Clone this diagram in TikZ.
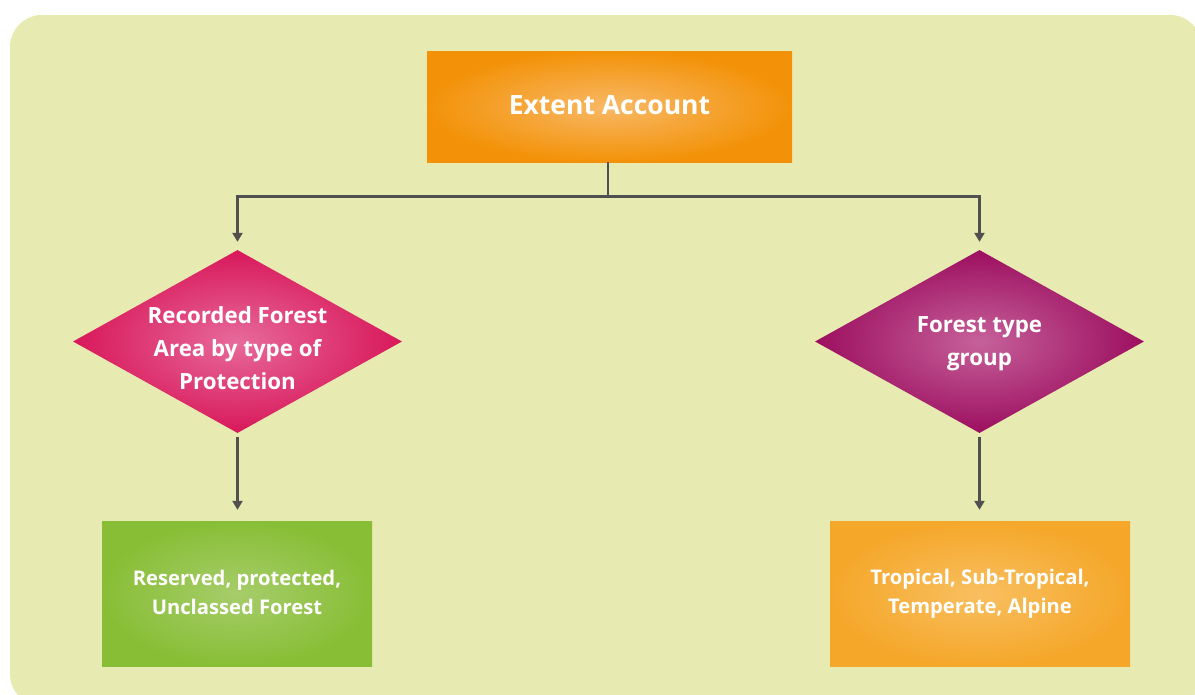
\documentclass[tikz,border=0pt]{standalone}
\usepackage{fontspec}
\setmainfont{Open Sans}
\usetikzlibrary{shapes.geometric,arrows.meta}
\definecolor{bgc}{HTML}{E8EBB1}
\definecolor{linegray}{HTML}{505050}
\definecolor{topout}{HTML}{F39208}
\definecolor{topin}{HTML}{F8B865}
\definecolor{redout}{HTML}{D8185A}
\definecolor{redin}{HTML}{E76A9B}
\definecolor{purout}{HTML}{9C0F5F}
\definecolor{purin}{HTML}{C6619B}
\definecolor{grnout}{HTML}{88BE36}
\definecolor{grnin}{HTML}{A6CD6A}
\definecolor{orout}{HTML}{F5A72A}
\definecolor{orin}{HTML}{F8BF60}
\begin{document}
\begin{tikzpicture}[x=1pt,y=-1pt,
  box/.style={rectangle, inner sep=0pt, shading=radial},
  dia/.style={diamond, aspect=1, inner sep=0pt, minimum width=329pt, minimum height=183pt, shading=radial},
  lbl/.style={text=white, font=\bfseries, align=center, inner sep=0pt},
  conn/.style={draw=linegray, line width=2.4pt},
  arr/.style={conn, -{Triangle[length=9pt,width=10pt]}}]
\useasboundingbox (0,0) rectangle (1195,694);
\clip (0,0) rectangle (1195,694);
\fill[bgc, rounded corners=32pt] (10,15) rectangle (1202,706);
% nodes
\node[box, minimum width=365pt, minimum height=111pt, inner color=topin, outer color=topout] (top) at (609.5,106.5) {};
\node[lbl, font=\fontsize{26.5}{32}\selectfont\bfseries] (toptxt) at ([yshift=1.5pt]top.center) {Extent Account};
\node[dia, inner color=redin, outer color=redout] (d1) at (237.5,341.5) {};
\node[lbl, font=\fontsize{22.3}{33}\selectfont\bfseries] (d1txt) at ([yshift=-7pt]d1.center) {Recorded Forest\\Area by type of\\Protection};
\node[dia, inner color=purin, outer color=purout] (d2) at (979.5,341.5) {};
\node[lbl, font=\fontsize{22.3}{33}\selectfont\bfseries] (d2txt) at ([yshift=-2.5pt]d2.center) {Forest type\\group};
\node[box, minimum width=270pt, minimum height=145pt, inner color=grnin, outer color=grnout] (b1) at (237,593.5) {};
\node[lbl, font=\fontsize{20.2}{29}\selectfont\bfseries] (b1txt) at ([yshift=1pt]b1.center) {Reserved, protected,\\Unclassed Forest};
\node[box, minimum width=300pt, minimum height=145pt, inner color=orin, outer color=orout] (b2) at (980,593.5) {};
\node[lbl, font=\fontsize{20.2}{29.5}\selectfont\bfseries] (b2txt) at (b2) {Tropical, Sub-Tropical,\\Temperate, Alpine};
% connectors
\coordinate (j) at (608,196.5);
\draw[conn] (top.south -| j) -- (j);
\draw[arr, shorten >=8pt] (j) -| (d1.north);
\draw[arr, shorten >=8pt] (j) -| (d2.north);
\draw[arr, shorten <=4pt, shorten >=11pt] (d1.south) -- (d1.south |- b1.north);
\draw[arr, shorten <=4pt, shorten >=11pt] (d2.south) -- (d2.south |- b2.north);
\end{tikzpicture}
\end{document}
